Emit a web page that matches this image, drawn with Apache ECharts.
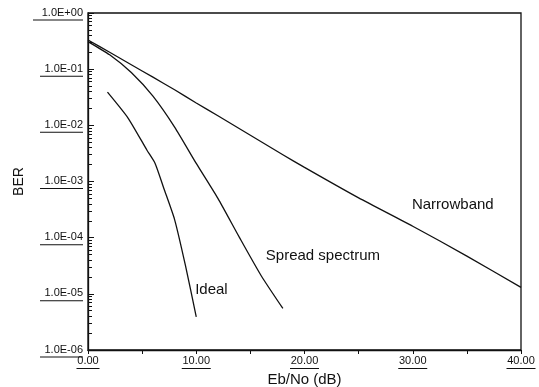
<!DOCTYPE html>
<html>
<head>
<meta charset="utf-8">
<script src="https://cdn.jsdelivr.net/npm/echarts@6/dist/echarts.min.js"></script>
<style>
  html, body { margin: 0; padding: 0; background: #fff; }
  #chart { width: 539px; height: 387px; }
</style>
</head>
<body>
<div id="chart"></div>
<script>
// values (Eb/No in dB, BER)
const idealX = [1.8, 3.7, 5.45, 6.2, 7, 8, 9, 10];
const idealBer = [0.039, 0.0135, 3.6e-3, 2.1e-3, 7.6e-4, 2.1e-4, 3.2e-5, 3.9e-6];

const spreadX = [0, 2, 4, 6, 8, 10, 12, 14, 16, 18];
const spreadBer = [0.31, 0.18, 0.087, 0.033, 9.3e-3, 2.1e-3, 5e-4, 1.0e-4, 2.1e-5, 5.5e-6];

const narrowX = [0, 2, 4, 6, 8, 10, 12, 14, 16, 18, 20, 25, 30, 35, 40];
const narrowBer = [0.33, 0.2, 0.12, 0.072, 0.043, 0.025, 0.0148, 0.0087, 0.0051, 0.003, 0.00178, 5.1e-4, 1.6e-4, 4.7e-5, 1.3e-5];

// curve captions, anchored in data space
const captionNames = ['Ideal', 'Spread spectrum', 'Narrowband'];
const captionX = [11.4, 21.7, 33.7];
const captionBer = [1.2e-5, 4.8e-5, 3.8e-4];

// axis ticks
const xLabelValues = [0, 10, 20, 30, 40];
const yLabelValues = [1, 1e-1, 1e-2, 1e-3, 1e-4, 1e-5, 1e-6];
const minorMultipliers = [2, 3, 4, 5, 6, 7, 8, 9];

(function () {
  const chart = echarts.init(document.getElementById('chart'));
  const font = 'Liberation Sans, Arial, sans-serif';

  const pairs = (xs, ys) => xs.map((x, i) => [x, ys[i]]);

  function sci(v) {
    const e = Math.round(Math.log10(v));
    return '1.0E' + (e < 0 ? '-' : '+') + String(Math.abs(e)).padStart(2, '0');
  }

  const yMinorTicks = [];
  yLabelValues.slice(1).forEach(d => {
    minorMultipliers.forEach(m => yMinorTicks.push(d * m));
  });

  const lineSeries = (name, data) => ({
    name,
    type: 'line',
    data,
    smooth: 0.2,
    symbol: 'none',
    lineStyle: { color: '#111', width: 1.3 },
    silent: true
  });

  chart.setOption({
    animation: false,
    backgroundColor: '#fff',
    textStyle: { fontFamily: font },
    grid: {
      left: 88,
      right: 18,
      top: 13,
      bottom: 37,
      outerBoundsMode: 'none',
      containLabel: false,
      show: true,
      borderColor: '#111',
      borderWidth: 1.3
    },
    xAxis: {
      type: 'value',
      min: 0,
      max: 40,
      interval: 5,
      name: 'Eb/No (dB)',
      nameLocation: 'middle',
      nameGap: 22,
      nameMoveOverlap: false,
      nameTextStyle: { color: '#111', fontSize: 15, fontFamily: font },
      axisLine: { lineStyle: { color: '#111', width: 1.3 } },
      axisTick: { length: 4, lineStyle: { color: '#111' } },
      splitLine: { show: false },
      axisLabel: {
        customValues: xLabelValues,
        margin: 4,
        color: '#111',
        formatter: v => '{t|' + v.toFixed(2) + '}\n{' + (v >= 10 ? 'ul' : 'us') + '|}',
        rich: {
          t: { fontSize: 11, lineHeight: 14, color: '#111', fontFamily: font },
          us: { width: 23, height: 1, lineHeight: 1, fontSize: 1, backgroundColor: '#111' },
          ul: { width: 29, height: 1, lineHeight: 1, fontSize: 1, backgroundColor: '#111' }
        }
      }
    },
    yAxis: [
      {
        type: 'log',
        logBase: 10,
        min: 1e-6,
        max: 1,
        position: 'left',
        name: 'BER',
        nameLocation: 'middle',
        nameGap: 62,
        nameMoveOverlap: false,
        nameTextStyle: { color: '#111', fontSize: 14, fontFamily: font },
        axisLine: { show: true, lineStyle: { color: '#111', width: 1.3 } },
        axisTick: { inside: true, length: 6, customValues: yLabelValues, lineStyle: { color: '#111' } },
        splitLine: { show: false },
        axisLabel: {
          customValues: yLabelValues,
          margin: 5,
          color: '#111',
          align: 'right',
          formatter: v => '{t|' + sci(v) + '}\n{' + (v >= 1 ? 'u0' : 'u') + '|}',
          rich: {
            t: { fontSize: 11, lineHeight: 14, color: '#111', fontFamily: font, align: 'right' },
            u: { width: 43, height: 1, lineHeight: 1, fontSize: 1, backgroundColor: '#111', align: 'right' },
            u0: { width: 50, height: 1, lineHeight: 1, fontSize: 1, backgroundColor: '#111', align: 'right' }
          }
        }
      },
      {
        type: 'log',
        logBase: 10,
        min: 1e-6,
        max: 1,
        position: 'left',
        offset: 0,
        axisLine: { show: false },
        axisLabel: { show: false },
        splitLine: { show: false },
        axisTick: { inside: true, length: 4, customValues: yMinorTicks, lineStyle: { color: '#111' } }
      }
    ],
    series: [
      lineSeries('Ideal', pairs(idealX, idealBer)),
      lineSeries('Spread spectrum', pairs(spreadX, spreadBer)),
      Object.assign(lineSeries('Narrowband', pairs(narrowX, narrowBer)), {
        markPoint: {
          symbol: 'circle',
          symbolSize: 0,
          silent: true,
          label: {
            show: true,
            position: 'inside',
            color: '#111',
            fontSize: 15,
            fontFamily: font,
            formatter: p => p.name
          },
          data: captionNames.map((n, i) => ({ name: n, coord: [captionX[i], captionBer[i]] }))
        }
      })
    ]
  });

  window.addEventListener('resize', () => chart.resize());
})();
</script>
</body>
</html>
